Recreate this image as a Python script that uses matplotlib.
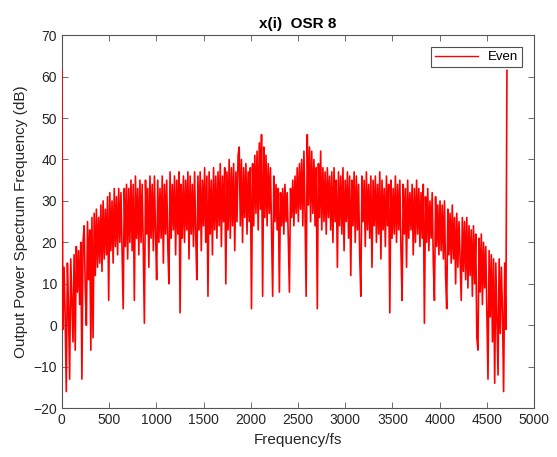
import numpy as np
import matplotlib
matplotlib.use("Agg")
import matplotlib.pyplot as plt

matplotlib.rcParams['font.family'] = ['Liberation Sans', 'DejaVu Sans']

# spectrum estimate (dB), evenly spaced bins 0..4712
spectrum_db = [
    61.5, -1, 14, 2, -16, 15, 4, -13, 16, 6, -4, 17, -6, 19, 8, 18, 5, 20, -13, 20,
    24, 9, 0, 25, 11, 23, -6, 26, -3, 27, 12, 28, 14, 26, 15, 29, 13, 30, 16, 28,
    17, 31, 6, 32, 18, 30, 15, 33, 19, 31, 17, 33, 20, 32, 18, 4, 33, 19, 34, 16,
    33, 20, 35, 18, 34, 6, 36, 21, 33, 17, 35, 20, 34, 19, 0.5, 35, 22, 33, 14, 36,
    21, 34, 18, 36, 22, 11, 35, 20, 33, 21, 36, 15, 34, 22, 35, 19, 10, 37, 21, 34,
    23, 36, 17, 35, 22, 37, 3, 34, 21, 36, 20, 35, 23, 37, 16, 36, 22, 34, 19, 37,
    22, 11, 36, 23, 37, 18, 35, 24, 38, 20, 36, 7, 37, 22, 35, 17, 38, 23, 36, 21,
    37, 24, 39, 19, 36, 25, 38, 10, 37, 23, 40, 21, 38, 24, 39, 18, 37, 25, 41, 43,
    24, 40, 20, 38, 26, 39, 22, 37, 25, 38, 4, 39, 24, 41, 27, 42, 23, 44, 28, 46,
    7, 43, 26, 41, 24, 39, 27, 38, 22, 7, 36, 25, 34, 23, 33, 8, 32, 24, 33, 22,
    34, 25, 32, 21, 8, 33, 26, 35, 24, 36, 27, 38, 25, 39, 28, 40, 24, 42, 27, 7,
    46, 29, 43, 25, 42, 27, 40, 24, 38, 4, 39, 26, 42, 23, 38, 25, 37, 22, 38, 26,
    36, 23, 37, 20, 38, 25, 35, 14, 37, 24, 36, 22, 38, 18, 35, 25, 37, 21, 36, 12,
    35, 24, 37, 20, 36, 23, 34, 17, 7, 36, 25, 35, 19, 37, 23, 34, 21, 36, 14, 35,
    24, 36, 20, 34, 22, 37, 16, 35, 23, 33, 19, 36, 24, 34, 3, 35, 21, 33, 22, 36,
    20, 34, 23, 35, 18, 6, 34, 22, 33, 14, 35, 21, 32, 23, 34, 17, 33, 20, 35, 22,
    33, 19, 32, 21, 34, 0.5, 31, 20, 33, 18, 30, 21, 32, 15, 6, 31, 19, 29, 17, 30,
    18, 29, 16, 30, 12, 4, 28, 17, 27, 15, 29, 16, 26, 10, 27, 14, 25, 16, 6, 26,
    13, 25, 11, 26, 9, 24, 12, 23, 7, 24, 10, 22, -3, -6, 21, 8, 22, 5, 20, 9,
    19, 3, -13, 18, 2, 17, -4, 16, -14, 15, 1, -12, 16, -2, 14, 3, -16, 15, -1, 61.5,
]
freq = np.linspace(0, 4712, len(spectrum_db))

x_ticks = [0, 500, 1000, 1500, 2000, 2500, 3000, 3500, 4000, 4500, 5000]
y_ticks = [-20, -10, 0, 10, 20, 30, 40, 50, 60, 70]

fig = plt.figure(figsize=(5.57, 4.57), dpi=100)
ax = fig.add_axes([0.111, 0.107, 0.848, 0.816])

ax.plot(freq, spectrum_db, color='red', linewidth=1.2, label='Even', zorder=3)

ax.set_xlim(0, 5000)
ax.set_ylim(-20, 70)
ax.set_xticks(x_ticks)
ax.set_yticks(y_ticks)

axis_col = '#262626'
for s in ax.spines.values():
    s.set_color('#555555')
    s.set_linewidth(0.8)
ax.tick_params(direction='in', top=True, right=True, length=4, width=0.6,
               colors='#555555', labelcolor=axis_col, labelsize=10)

ax.set_xlabel('Frequency/fs', fontsize=11, color=axis_col)
ax.set_ylabel('Output Power Spectrum Frequency (dB)', fontsize=11, color=axis_col)
ax.set_title('x(i)  OSR 8', fontsize=11, fontweight='bold', color='#000000', pad=5)

leg = ax.legend(loc='upper right', fontsize=9.5, frameon=True, fancybox=False,
                handlelength=3.2, borderpad=0.3, borderaxespad=0.9)
leg.get_frame().set_edgecolor('#262626')
leg.get_frame().set_linewidth(0.8)
leg.get_lines()[0].set_linewidth(1.0)

fig.savefig('out.png', dpi=100)
